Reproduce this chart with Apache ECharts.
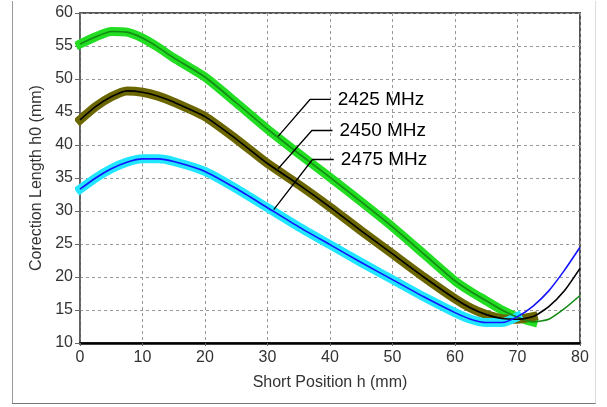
<!DOCTYPE html>
<html>
<head>
<meta charset="utf-8">
<script src="https://cdn.jsdelivr.net/npm/echarts@6/dist/echarts.min.js"></script>
<style>
html, body { margin: 0; padding: 0; background: #fff; }
#chart { width: 607px; height: 407px; }
</style>
</head>
<body>
<div id="chart"></div>
<script>
// short position h (mm)
const posH = [0, 2.5, 5, 7.5, 10, 12.5, 15, 20, 25, 30, 35, 40, 45, 50, 55, 60, 62.5, 65, 67.5, 70, 72.5, 75, 77.5, 80];
// correction length h0 (mm) per frequency
const h2425 = [55.3, 56.4, 57.2, 57.1, 56.2, 54.8, 53.2, 50.3, 46.4, 42.4, 38.7, 35.1, 31.4, 27.6, 23.5, 19.4, 17.8, 16.4, 15.0, 13.9, 13.2, 13.6, 15.2, 17.2];
const h2450 = [43.8, 45.8, 47.3, 48.2, 48.0, 47.4, 46.5, 44.3, 40.9, 37.2, 34.0, 30.6, 27.0, 23.5, 20.0, 16.7, 15.3, 14.3, 13.7, 13.6, 14.0, 15.5, 17.9, 21.3];
const h2475 = [33.3, 35.0, 36.4, 37.4, 37.9, 37.9, 37.5, 36.0, 33.4, 30.5, 27.6, 24.9, 22.2, 19.6, 17.0, 14.6, 13.6, 13.1, 13.1, 14.0, 15.6, 17.9, 21.0, 24.5];
// wide band drawn up to this h, per curve
const bandEnd2425 = 72.5;
const bandEnd2450 = 72.5;
const bandEnd2475 = 70;

// callout leader lines (curve point -> elbow -> text)
const leader2425 = [[31.7, 41.3], [36.8, 46.9], [40.1, 46.9]];
const leader2450 = [[31.7, 36.4], [37.1, 42.2], [40.4, 42.2]];
const leader2475 = [[31.0, 30.2], [37.2, 37.8], [40.6, 37.8]];

const xTicks = [0, 80, 10];
const yTicks = [10, 60, 5];

const font = "Arial, 'Liberation Sans', sans-serif";

function pts(vals) {
  return posH.map((h, i) => [h, vals[i]]);
}

function bandSeries(vals, end, color) {
  return {
    type: "line",
    data: pts(vals).filter(p => p[0] <= end),
    smooth: 0.2,
    showSymbol: false,
    silent: true,
    z: 2,
    lineStyle: { color: color, width: 9, cap: "square", join: "round" }
  };
}
function coreSeries(vals, color) {
  return {
    type: "line",
    data: pts(vals),
    smooth: 0.2,
    showSymbol: false,
    silent: true,
    z: 3,
    lineStyle: { color: color, width: 1.6 }
  };
}
function leaderSeries(name, data) {
  return {
    type: "line",
    name: name,
    data: data,
    showSymbol: false,
    silent: true,
    z: 4,
    lineStyle: { color: "#000", width: 1.3 },
    endLabel: {
      show: true,
      formatter: "{a}",
      distance: 7,
      fontFamily: font,
      fontSize: 19,
      color: "#000"
    }
  };
}

let ec = echarts.init(document.getElementById("chart"));
ec.setOption({
  animation: false,
  backgroundColor: "#fff",
  graphic: [
    // panel frame
    { type: "line", shape: { x1: 12.5, y1: 1, x2: 12.5, y2: 403.5 }, style: { stroke: "#999", lineWidth: 1 } },
    { type: "line", shape: { x1: 12, y1: 403.5, x2: 596, y2: 403.5 }, style: { stroke: "#777", lineWidth: 1 } },
    { type: "line", shape: { x1: 595.5, y1: 1, x2: 595.5, y2: 403.5 }, style: { stroke: "#ddd", lineWidth: 1 } }
  ],
  grid: {
    left: 80,
    right: 27,
    top: 13,
    bottom: 64,
    show: true,
    borderColor: "#555",
    borderWidth: 2
  },
  xAxis: {
    type: "value",
    min: xTicks[0],
    max: xTicks[1],
    interval: xTicks[2],
    name: "Short Position h (mm)",
    nameLocation: "middle",
    nameGap: 32,
    nameTextStyle: { fontFamily: font, fontSize: 16, color: "#333" },
    axisLine: { show: true, lineStyle: { color: "#000", width: 2.5 } },
    axisTick: { show: true, length: 3, lineStyle: { color: "#666" } },
    axisLabel: { fontFamily: font, fontSize: 16, color: "#333", margin: 7 },
    splitLine: { show: true, lineStyle: { color: "#999", type: [3, 3], width: 1 } }
  },
  yAxis: {
    type: "value",
    min: yTicks[0],
    max: yTicks[1],
    interval: yTicks[2],
    name: "Corection Length h0 (mm)",
    nameLocation: "middle",
    nameGap: 30,
    nameTextStyle: { fontFamily: font, fontSize: 16, color: "#333" },
    axisLine: { show: true, lineStyle: { color: "#666", width: 1.5 } },
    axisTick: { show: true, length: 5, lineStyle: { color: "#666" } },
    axisLabel: { fontFamily: font, fontSize: 16, color: "#333", margin: 7 },
    splitLine: { show: true, lineStyle: { color: "#999", type: [3, 3], width: 1 } }
  },
  series: [
    bandSeries(h2425, bandEnd2425, "#22dd22"),
    bandSeries(h2450, bandEnd2450, "#6b6600"),
    bandSeries(h2475, bandEnd2475, "#22e6ff"),
    coreSeries(h2425, "#138a13"),
    coreSeries(h2450, "#000000"),
    coreSeries(h2475, "#1414ff"),
    leaderSeries("2425 MHz", leader2425),
    leaderSeries("2450 MHz", leader2450),
    leaderSeries("2475 MHz", leader2475)
  ]
});
</script>
</body>
</html>
